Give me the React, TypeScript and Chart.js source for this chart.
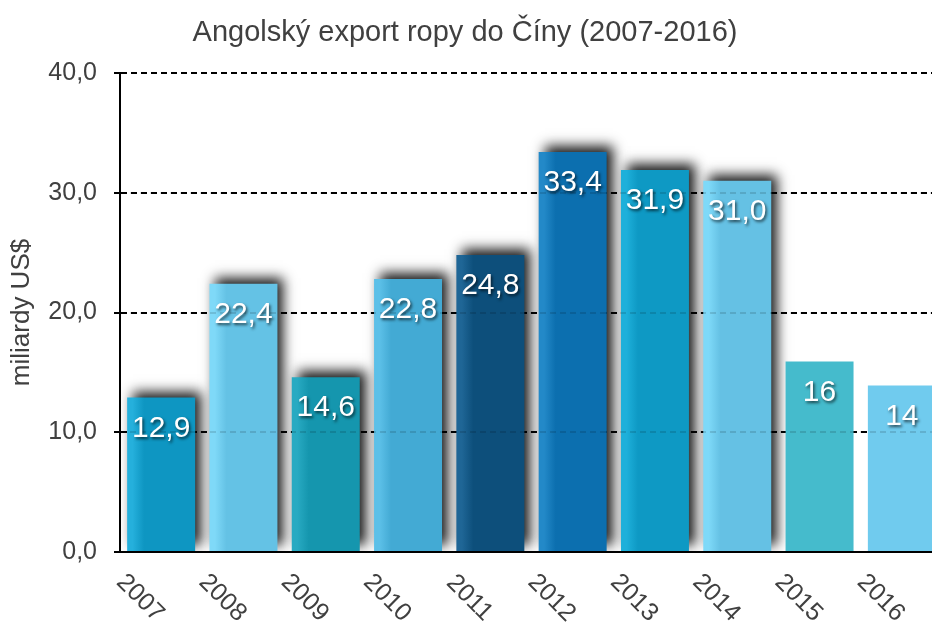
import React, { useEffect, useRef } from "react";
import { Chart, registerables } from "chart.js";

Chart.register(...registerables);

const TITLE = "Angolský export ropy do Číny (2007-2016)";
const Y_TITLE = "miliardy US$";
const YEARS = ["2007", "2008", "2009", "2010", "2011", "2012", "2013", "2014", "2015", "2016"];
const VALUES = [12.9, 22.4, 14.6, 22.8, 24.8, 33.4, 31.9, 31.0, 15.9, 13.9];
const VALUE_LABELS = ["12,9", "22,4", "14,6", "22,8", "24,8", "33,4", "31,9", "31,0", "16", "14"];
const Y_MIN = 0;
const Y_MAX = 40;
const Y_STEP = 10;
const BAR_COLORS = ["#0E96C2", "#64C2E5", "#1596AE", "#43AAD4", "#0D4F7B", "#0C6FAF", "#0E99C4", "#65C1E4", "#45BBCC", "#70CBEE"];
const BAR_EDGE_COLORS = ["#25B0DC", "#7FD9F8", "#28AAC2", "#5CC0E8", "#1F6696", "#2389C8", "#1EB0DA", "#7ED9F8", "#45BBCC", "#70CBEE"];
const SHADOWED_COUNT = 8;

const FONT = '"Liberation Sans", Arial, sans-serif';
const TEXT_COLOR = "#404040";
const BAR_PCT = 0.826;

const shadowedData = VALUES.map((v, i) => (i < SHADOWED_COUNT ? v : null));
const plainData = VALUES.map((v, i) => (i >= SHADOWED_COUNT ? v : null));

function barFill(c: any) {
  const i = c.dataIndex;
  const chart = c.chart;
  const xs = chart.scales && chart.scales.x;
  if (!chart.chartArea || !xs || i == null) return BAR_COLORS[i] || "#000";
  const center = xs.getPixelForValue(i);
  const w = (xs.width / YEARS.length) * BAR_PCT;
  const left = center - w / 2;
  const g = chart.ctx.createLinearGradient(left, 0, left + w, 0);
  g.addColorStop(0, BAR_EDGE_COLORS[i]);
  g.addColorStop(0.08, BAR_EDGE_COLORS[i]);
  g.addColorStop(0.25, BAR_COLORS[i]);
  g.addColorStop(1, BAR_COLORS[i]);
  return g;
}

const shadowPlugin = {
  id: "barShadow",
  beforeDatasetDraw(chart: any, args: any) {
    if (args.index === 0) {
      const ctx = chart.ctx;
      ctx.save();
      ctx.shadowColor = "rgba(0,0,0,0.9)";
      ctx.shadowBlur = 12;
      ctx.shadowOffsetX = 6;
      ctx.shadowOffsetY = -6;
    }
  },
  afterDatasetDraw(chart: any, args: any) {
    if (args.index === 0) chart.ctx.restore();
  },
};

const overlayPlugin = {
  id: "overlay",
  afterDatasetsDraw(chart: any) {
    const ctx = chart.ctx;
    const ys = chart.scales.y;
    const area = chart.chartArea;
    // faint grid through bars
    ctx.save();
    ctx.strokeStyle = "rgba(0,0,0,0.13)";
    ctx.lineWidth = 2;
    ctx.setLineDash([6, 4]);
    for (let v = Y_MIN + Y_STEP; v < Y_MAX; v += Y_STEP) {
      const y = Math.round(ys.getPixelForValue(v));
      ctx.beginPath();
      ctx.moveTo(area.left, y);
      ctx.lineTo(area.right, y);
      ctx.stroke();
    }
    ctx.restore();

    // value labels
    ctx.save();
    ctx.font = `30px ${FONT}`;
    ctx.fillStyle = "#ffffff";
    ctx.textAlign = "center";
    ctx.textBaseline = "middle";
    ctx.shadowColor = "rgba(0,0,0,0.65)";
    ctx.shadowBlur = 3;
    ctx.shadowOffsetX = 1.5;
    ctx.shadowOffsetY = 2;
    [0, 1].forEach((di) => {
      const meta = chart.getDatasetMeta(di);
      meta.data.forEach((el: any, i: number) => {
        const v = chart.data.datasets[di].data[i];
        if (v == null) return;
        ctx.fillText(VALUE_LABELS[i], el.x, el.y + 31);
      });
    });
    ctx.restore();
  },
  afterDraw(chart: any) {
    const ctx = chart.ctx;
    const xs = chart.scales.x;
    const area = chart.chartArea;
    ctx.save();
    ctx.font = `25px ${FONT}`;
    ctx.fillStyle = TEXT_COLOR;
    ctx.textAlign = "center";
    ctx.textBaseline = "middle";
    YEARS.forEach((yr, i) => {
      const cx = xs.getPixelForValue(i);
      ctx.save();
      ctx.translate(cx - 21, area.bottom + 46);
      ctx.rotate(Math.PI / 4);
      ctx.fillText(yr, 0, 0);
      ctx.restore();
    });
    // title
    ctx.font = `29px ${FONT}`;
    ctx.fillText(TITLE, 465, 33);
    ctx.restore();
  },
};

export default function App() {
  const ref = useRef<HTMLCanvasElement | null>(null);
  useEffect(() => {
    if (!ref.current) return;
    const chart = new Chart(ref.current, {
      type: "bar",
      data: {
        labels: YEARS,
        datasets: [
          {
            data: shadowedData as any,
            backgroundColor: barFill as any,
            borderWidth: 0,
            barPercentage: BAR_PCT,
            categoryPercentage: 1,
            order: 1,
          },
          {
            data: plainData as any,
            backgroundColor: barFill as any,
            borderWidth: 0,
            barPercentage: BAR_PCT,
            categoryPercentage: 1,
            order: 0,
          },
        ],
      },
      options: {
        responsive: false,
        animation: false,
        devicePixelRatio: 1,
        layout: { padding: { top: 73, left: 0, right: 1, bottom: 0 } },
        plugins: {
          legend: { display: false },
          title: { display: false },
          tooltip: { enabled: false },
        },
        scales: {
          x: {
            stacked: true,
            grid: { display: false },
            border: { display: true, color: "#000", width: 2 },
            ticks: { display: false },
            afterFit: (s: any) => {
              s.height = 74;
            },
          },
          y: {
            stacked: true,
            min: Y_MIN,
            max: Y_MAX,
            ticks: {
              stepSize: Y_STEP,
              padding: 17,
              color: TEXT_COLOR,
              font: { family: FONT, size: 25 },
              callback: (v: any) => Number(v).toFixed(1).replace(".", ","),
            },
            grid: {
              color: (c: any) => (c.tick && c.tick.value === Y_MIN ? "rgba(0,0,0,0)" : "#000"),
              lineWidth: 2,
              tickLength: 6,
              tickColor: "#000",
              tickWidth: 2,
              tickBorderDash: [],
            },
            border: { display: true, color: "#000", width: 2, dash: [6, 4] },
            title: {
              display: true,
              text: Y_TITLE,
              color: TEXT_COLOR,
              font: { family: FONT, size: 26 },
              padding: { top: 6, bottom: 0 },
            },
            afterFit: (s: any) => {
              s.width = 120;
            },
          },
        },
      },
      plugins: [shadowPlugin, overlayPlugin],
    });
    return () => chart.destroy();
  }, []);

  return (
    <div
      style={{
        position: "absolute",
        left: 0,
        top: 0,
        width: 932,
        height: 626,
        overflow: "hidden",
        background: "#fff",
      }}
    >
      <canvas ref={ref} width={944} height={626} style={{ display: "block", width: 944, height: 626 }} />
    </div>
  );
}
